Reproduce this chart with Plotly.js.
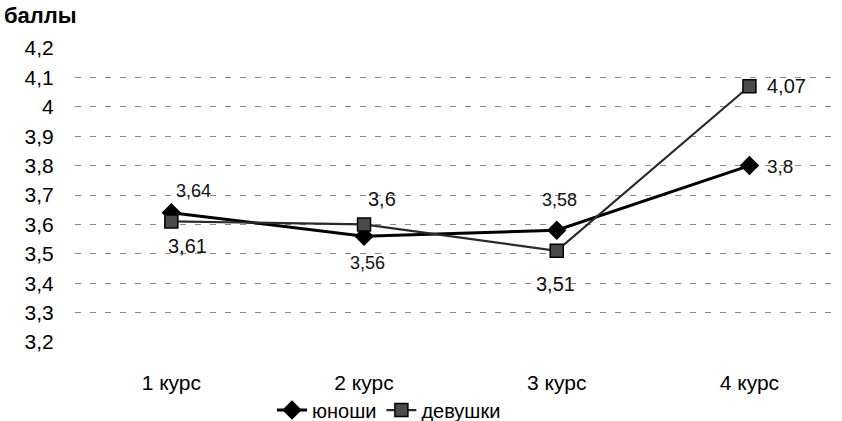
<!DOCTYPE html>
<html><head><meta charset="utf-8">
<script src="https://cdn.plot.ly/plotly-3.0.1.min.js"></script>
<style>body{margin:0;background:#fff}#c{width:842px;height:421px}</style>
</head><body><div id="c"></div>
<script>
const categories = ["1 курс", "2 курс", "3 курс", "4 курс"];
const boys = [3.64, 3.56, 3.58, 3.8];
const girls = [3.61, 3.6, 3.51, 4.07];
const seriesNames = ["юноши", "девушки"];
const yTicks = [3.2, 3.3, 3.4, 3.5, 3.6, 3.7, 3.8, 3.9, 4.0, 4.1, 4.2];
const yTickText = ["3,2", "3,3", "3,4", "3,5", "3,6", "3,7", "3,8", "3,9", "4", "4,1", "4,2"];

const fmt = v => String(v).replace('.', ',');
const F = 'Liberation Sans, Arial, sans-serif';

// label placement (pixel shifts relative to each point)
const boysShift = [[22, 22, 'center'], [3, -27, 'center'], [3, 30, 'center'], [16, -1, 'left']];
const girlsShift = [[16, -25, 'center'], [18, 25, 'center'], [-1, -33, 'center'], [16, 0, 'left']];

const traces = [
  {x: categories, y: boys, name: seriesNames[0], type: 'scatter', mode: 'lines+markers',
   line: {color: '#000', width: 3}, marker: {symbol: 'diamond', size: 15, color: '#000'}, cliponaxis: false},
  {x: categories, y: girls, name: seriesNames[1], type: 'scatter', mode: 'lines+markers',
   line: {color: '#2a2a2a', width: 2.2}, marker: {symbol: 'square', size: 13, color: '#4a4a4a', line: {color: '#000', width: 1.5}}, cliponaxis: false}
];

const annotations = [];
boys.forEach((v, i) => annotations.push({x: categories[i], y: v, text: fmt(v), showarrow: false,
  xanchor: boysShift[i][2], yanchor: 'middle', xshift: boysShift[i][0], yshift: boysShift[i][1],
  font: {family: F, size: i === 3 ? 19 : 18, color: '#111'}}));
girls.forEach((v, i) => annotations.push({x: categories[i], y: v, text: fmt(v), showarrow: false,
  xanchor: girlsShift[i][2], yanchor: 'middle', xshift: girlsShift[i][0], yshift: girlsShift[i][1],
  font: {family: F, size: 20, color: '#111'}}));
annotations.push({text: '<b>баллы</b>', xref: 'paper', yref: 'paper', x: -0.096, xanchor: 'left',
  y: 1.06, yanchor: 'bottom', showarrow: false, font: {family: F, size: 22, color: '#000'}});

const layout = {
  width: 842, height: 421,
  margin: {l: 75, r: 2, t: 48, b: 79, autoexpand: false},
  paper_bgcolor: '#fff', plot_bgcolor: '#fff',
  font: {family: F, size: 21, color: '#000'},
  showlegend: true,
  legend: {orientation: 'h', xref: 'container', yref: 'container', x: 0.462, xanchor: 'center',
           y: 0.026, yanchor: 'middle', bgcolor: 'rgba(0,0,0,0)',
           font: {family: F, size: 20, color: '#000'}, tracegroupgap: 0},
  xaxis: {type: 'category', range: [-0.5, 3.47], showgrid: false, zeroline: false, showline: false,
          automargin: false,
          ticks: 'outside', ticklen: 22, tickcolor: 'rgba(0,0,0,0)',
          tickfont: {family: F, size: 21, color: '#000'}},
  yaxis: {range: [3.2, 4.2], tickvals: yTicks, ticktext: yTickText,
          showgrid: true, gridcolor: '#8a8a8a', gridwidth: 1, griddash: '6px,9px',
          zeroline: false, showline: false, automargin: false,
          ticks: 'outside', ticklen: 16, tickcolor: 'rgba(0,0,0,0)',
          tickfont: {family: F, size: 21, color: '#000'}},
  annotations: annotations
};

Plotly.newPlot('c', traces, layout, {staticPlot: true});
</script></body></html>
